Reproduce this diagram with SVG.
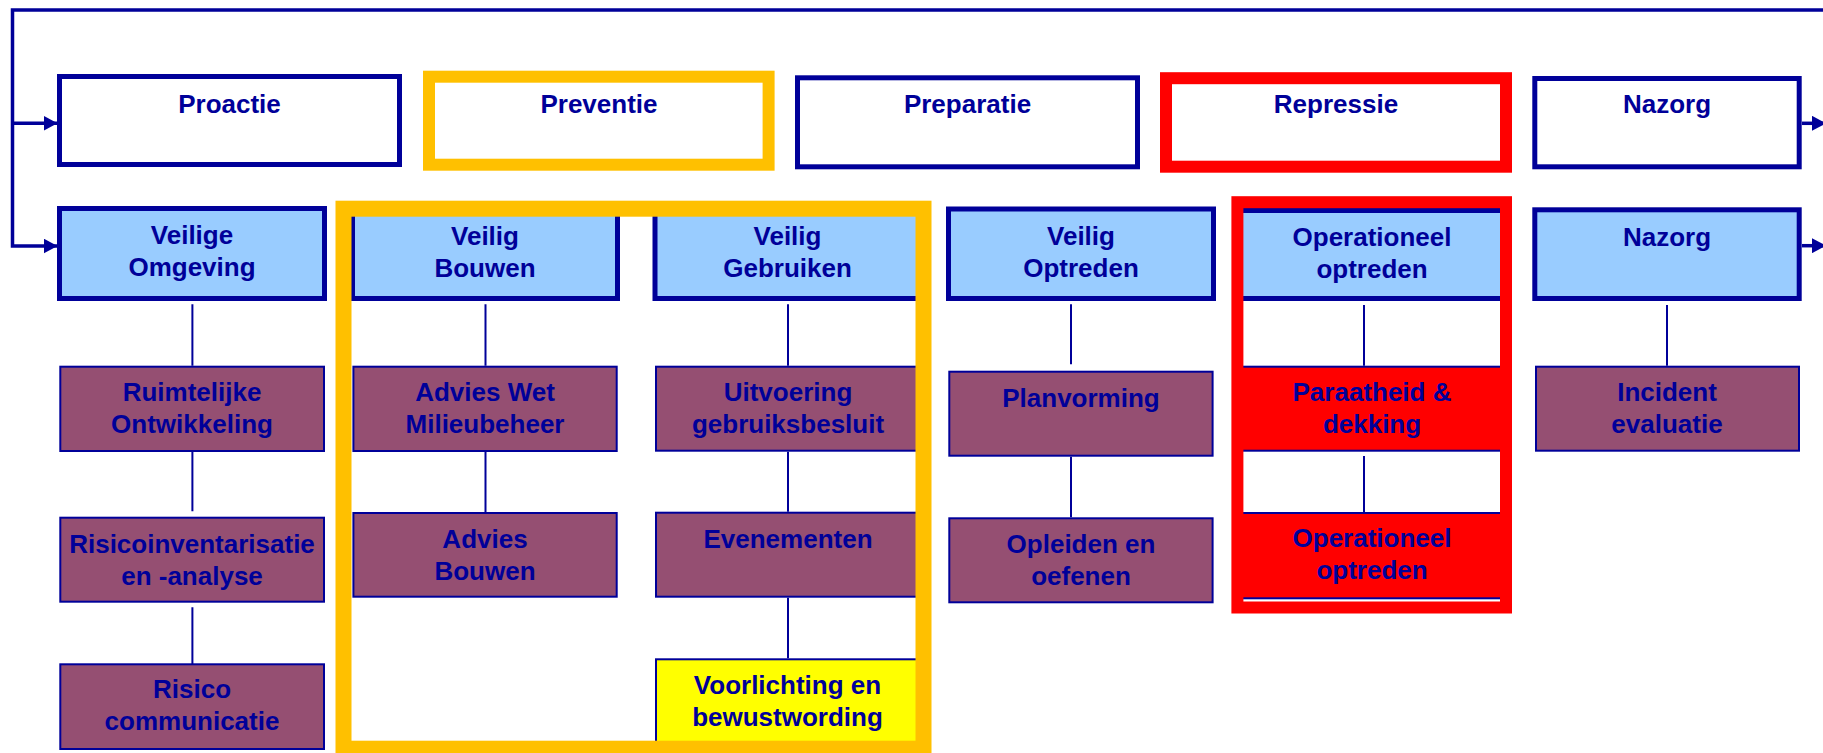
<svg xmlns="http://www.w3.org/2000/svg" width="1823" height="753" viewBox="0 0 1823 753">
  <defs>
    <style>
      .hdr { fill: #FFFFFF; stroke: #000099; stroke-width: 5; }
      .blue { fill: #99CCFF; stroke: #000099; stroke-width: 5; }
      .purple { fill: #954F72; stroke: #000099; stroke-width: 2; }
      .redbox { fill: #FF0000; stroke: #000099; stroke-width: 2; }
      .yelbox { fill: #FFFF00; stroke: #000099; stroke-width: 2; }
      .conn { stroke: #000099; stroke-width: 2; fill: none; }
      .flow { stroke: #000099; stroke-width: 3.5; fill: none; }
      .yframe { fill: none; stroke: #FFC000; }
      .rframe { fill: none; stroke: #FF0000; }
      text { font-family: "Liberation Sans", Arial, sans-serif; font-weight: bold; font-size: 26px; fill: #000099; text-anchor: middle; }
    </style>
    <marker id="arr" markerUnits="userSpaceOnUse" markerWidth="14" markerHeight="15" refX="14" refY="7.5" orient="auto">
      <path d="M0,0 L14,7.5 L0,15 Z" fill="#000099"/>
    </marker>
  </defs>
  <rect width="1823" height="753" fill="#FFFFFF"/>

  <g id="connectors">
    <path class="flow" d="M1823,10 H12.5 V246 H57.5" marker-end="url(#arr)"/>
    <path class="flow" d="M12.5,123.3 H57.5" marker-end="url(#arr)"/>
    <path class="flow" d="M1802,123.3 H1826" marker-end="url(#arr)"/>
    <path class="flow" d="M1802,245.7 H1826" marker-end="url(#arr)"/>
    <path class="conn" d="M192.4,304.3 V365.7 M192.4,452 V511.3 M192.4,607.3 V665"/>
    <path class="conn" d="M485.5,304.3 V365.7 M485.5,452 V512"/>
    <path class="conn" d="M788,304.3 V365.7 M788,451.7 V511.7 M788,597.7 V658.3"/>
    <path class="conn" d="M1071,304.3 V364.3 M1071,456.7 V517.3"/>
    <path class="conn" d="M1364,305 V365.7 M1364,456 V512"/>
    <path class="conn" d="M1667,305 V365.7"/>
  </g>

  <g id="proactie"><rect class="hdr" x="59.5" y="76.5" width="340" height="88"/><text x="229.5" y="112.5">Proactie</text></g>
  <g id="preventie"><rect class="yframe" stroke-width="12" x="429" y="76.7" width="339.6" height="88"/><text x="599" y="112.7">Preventie</text></g>
  <g id="preparatie"><rect class="hdr" x="797.5" y="77.8" width="340" height="89"/><text x="967.5" y="112.7">Preparatie</text></g>
  <g id="repressie"><rect class="rframe" stroke-width="12" x="1166" y="78.2" width="340" height="88.5"/><text x="1336" y="112.7">Repressie</text></g>
  <g id="nazorg-top"><rect class="hdr" x="1534.8" y="78.5" width="264.4" height="88.3"/><text x="1667" y="112.7">Nazorg</text></g>

  <g id="veilige-omgeving"><rect class="blue" x="59.5" y="208.5" width="265" height="90"/><text x="192" y="244">Veilige</text><text x="192" y="276">Omgeving</text></g>
  <g id="veilig-bouwen"><rect class="blue" x="352.5" y="208.5" width="265" height="90"/><text x="485" y="245">Veilig</text><text x="485" y="277">Bouwen</text></g>
  <g id="veilig-gebruiken"><rect class="blue" x="655" y="208.5" width="265" height="90"/><text x="787.5" y="245">Veilig</text><text x="787.5" y="277">Gebruiken</text></g>
  <g id="veilig-optreden"><rect class="blue" x="948.5" y="209" width="265" height="89.5"/><text x="1081" y="245">Veilig</text><text x="1081" y="277">Optreden</text></g>
  <g id="operationeel-optreden-1"><rect class="blue" x="1238" y="210.5" width="268" height="88"/><text x="1372" y="246">Operationeel</text><text x="1372" y="278.3">optreden</text></g>
  <g id="nazorg"><rect class="blue" x="1534.8" y="209.8" width="264.4" height="88.7"/><text x="1667" y="246">Nazorg</text></g>

  <g id="ruimtelijke-ontwikkeling"><rect class="purple" x="60.3" y="366.7" width="263.7" height="84.3"/><text x="192" y="400.7">Ruimtelijke</text><text x="192" y="432.7">Ontwikkeling</text></g>
  <g id="risicoinventarisatie"><rect class="purple" x="60.3" y="517.7" width="263.7" height="84"/><text x="192" y="553.3">Risicoinventarisatie</text><text x="192" y="585">en -analyse</text></g>
  <g id="risico-communicatie"><rect class="purple" x="60.3" y="664.3" width="263.7" height="84.7"/><text x="192" y="698.3">Risico</text><text x="192" y="730">communicatie</text></g>

  <g id="advies-wet-milieubeheer"><rect class="purple" x="353.4" y="366.7" width="263.3" height="84.3"/><text x="485" y="400.7">Advies Wet</text><text x="485" y="432.7">Milieubeheer</text></g>
  <g id="advies-bouwen"><rect class="purple" x="353.4" y="513" width="263.3" height="83.7"/><text x="485" y="548.3">Advies</text><text x="485" y="580">Bouwen</text></g>

  <g id="uitvoering-gebruiksbesluit"><rect class="purple" x="656" y="366.7" width="264" height="84"/><text x="788" y="400.7">Uitvoering</text><text x="788" y="432.7">gebruiksbesluit</text></g>
  <g id="evenementen"><rect class="purple" x="656" y="512.7" width="264" height="84"/><text x="788" y="548.3">Evenementen</text></g>
  <g id="voorlichting"><rect class="yelbox" x="656" y="659.3" width="264" height="84"/><text x="787.5" y="694.3">Voorlichting en</text><text x="787.5" y="725.5">bewustwording</text></g>

  <g id="planvorming"><rect class="purple" x="949.3" y="371.7" width="263.3" height="84"/><text x="1081" y="407.3">Planvorming</text></g>
  <g id="opleiden-oefenen"><rect class="purple" x="949.3" y="518.3" width="263.3" height="84"/><text x="1081" y="553.3">Opleiden en</text><text x="1081" y="585">oefenen</text></g>

  <g id="paraatheid-dekking"><rect class="redbox" x="1240" y="366.7" width="265" height="84"/><text x="1372" y="400.7">Paraatheid &amp;</text><text x="1372" y="432.7">dekking</text></g>
  <g id="operationeel-optreden-2"><rect class="redbox" x="1240" y="513" width="265" height="85.3"/><text x="1372" y="547.3">Operationeel</text><text x="1372" y="579.3">optreden</text></g>

  <g id="incident-evaluatie"><rect class="purple" x="1536" y="366.7" width="263" height="84"/><text x="1667" y="400.7">Incident</text><text x="1667" y="432.7">evaluatie</text></g>

  <g id="preventie-frame"><rect class="yframe" stroke-width="16" x="343.5" y="208.7" width="580" height="540"/></g>
  <g id="repressie-frame"><rect class="rframe" stroke-width="12" x="1237.4" y="202.2" width="268.6" height="405.3"/></g>
</svg>
